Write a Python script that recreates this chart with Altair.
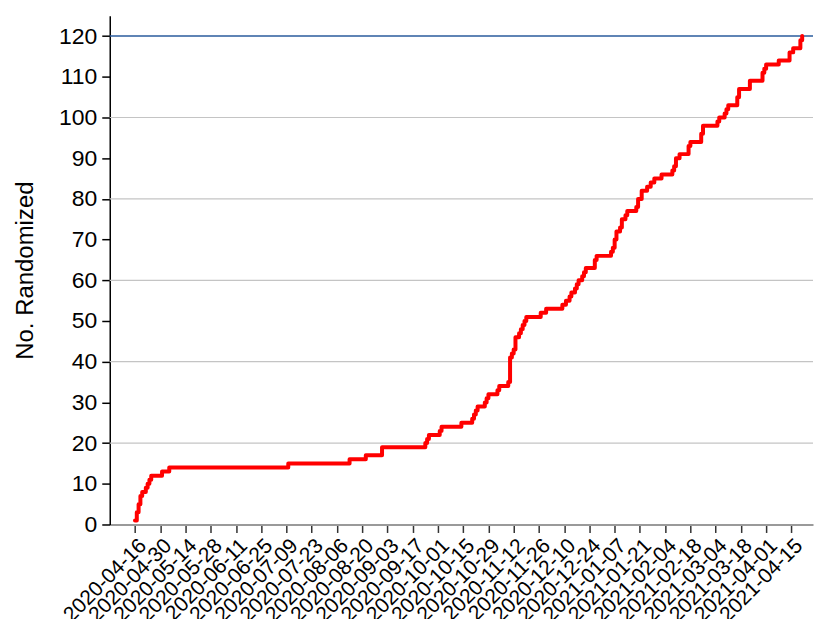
import altair as alt
import pandas as pd

# Step data: date of change and cumulative number randomized
dates = [
    "2020-04-16", "2020-04-17", "2020-04-18", "2020-04-19", "2020-04-20",
    "2020-04-22", "2020-04-23", "2020-04-24", "2020-04-25", "2020-05-01",
    "2020-05-05", "2020-07-10", "2020-08-13", "2020-08-22", "2020-08-31",
    "2020-09-24", "2020-09-25", "2020-09-26", "2020-10-02", "2020-10-03",
    "2020-10-14", "2020-10-20", "2020-10-21", "2020-10-22", "2020-10-23",
    "2020-10-27", "2020-10-28", "2020-10-29", "2020-11-03", "2020-11-04",
    "2020-11-09", "2020-11-10", "2020-11-11", "2020-11-12", "2020-11-13",
    "2020-11-15", "2020-11-16", "2020-11-17", "2020-11-18", "2020-11-19",
    "2020-11-27", "2020-11-30", "2020-12-09", "2020-12-11", "2020-12-13",
    "2020-12-14", "2020-12-16", "2020-12-17", "2020-12-18", "2020-12-20",
    "2020-12-21", "2020-12-22", "2020-12-27", "2020-12-28", "2021-01-05",
    "2021-01-06", "2021-01-07", "2021-01-08", "2021-01-10", "2021-01-11",
    "2021-01-13", "2021-01-14", "2021-01-19", "2021-01-20", "2021-01-22",
    "2021-01-25", "2021-01-27", "2021-01-29", "2021-02-02", "2021-02-08",
    "2021-02-09", "2021-02-10", "2021-02-12", "2021-02-17", "2021-02-18",
    "2021-02-24", "2021-02-25", "2021-03-05", "2021-03-06", "2021-03-09",
    "2021-03-10", "2021-03-11", "2021-03-16", "2021-03-17", "2021-03-23",
    "2021-03-30", "2021-03-31", "2021-04-01", "2021-04-08", "2021-04-14",
    "2021-04-16", "2021-04-20", "2021-04-21",
]
randomized = [
    1, 3, 5, 7, 8,
    9, 10, 11, 12, 13,
    14, 15, 16, 17, 19,
    20, 21, 22, 23, 24,
    25, 26, 27, 28, 29,
    30, 31, 32, 33, 34,
    35, 41, 42, 43, 46,
    47, 48, 49, 50, 51,
    52, 53, 54, 55, 56,
    57, 58, 59, 60, 61,
    62, 63, 65, 66, 67,
    68, 70, 72, 73, 75,
    76, 77, 78, 80, 82,
    83, 84, 85, 86, 87,
    88, 90, 91, 93, 94,
    96, 98, 99, 100, 101,
    102, 103, 105, 107, 109,
    111, 112, 113, 114, 116,
    117, 119, 120,
]

tick_labels = [
    "2020-04-16", "2020-04-30", "2020-05-14", "2020-05-28", "2020-06-11",
    "2020-06-25", "2020-07-09", "2020-07-23", "2020-08-06", "2020-08-20",
    "2020-09-03", "2020-09-17", "2020-10-01", "2020-10-15", "2020-10-29",
    "2020-11-12", "2020-11-26", "2020-12-10", "2020-12-24", "2021-01-07",
    "2021-01-21", "2021-02-04", "2021-02-18", "2021-03-04", "2021-03-18",
    "2021-04-01", "2021-04-15",
]
y_ticks = [0, 10, 20, 30, 40, 50, 60, 70, 80, 90, 100, 110, 120]
grid_values = [20, 40, 60, 80, 100]
target = [120]
x_domain = ["2020-04-02", "2021-04-27"]


def dt(s):
    y, m, d = (int(p) for p in s.split("-"))
    return alt.DateTime(year=y, month=m, date=d, utc=True)


df = pd.DataFrame({"date": dates, "n": randomized})
grid_df = pd.DataFrame({"y": grid_values})
target_df = pd.DataFrame({"y": target})

xscale = alt.Scale(type="utc", domain=[dt(x_domain[0]), dt(x_domain[1])])
yscale = alt.Scale(domain=[0, 125])

grid = alt.Chart(grid_df).mark_rule(color="#c4c4c4", strokeWidth=1.2).encode(
    y=alt.Y("y:Q", scale=yscale)
)
target_rule = alt.Chart(target_df).mark_rule(color="#2a5b9c", strokeWidth=1.5).encode(
    y=alt.Y("y:Q", scale=yscale)
)

line = alt.Chart(df).mark_line(
    color="#ff0000", strokeWidth=4, interpolate="step-after",
    strokeCap="round", strokeJoin="round",
).encode(
    x=alt.X(
        "date:T",
        scale=xscale,
        axis=alt.Axis(
            title=None,
            values=[dt(t) for t in tick_labels],
            labelExpr="utcFormat(datum.value, '%Y-%m-%d')",
            labelAngle=-45,
            labelFontSize=21,
            labelColor="black",
            labelFont="Liberation Sans",
            domainColor="#9a9a9a",
            domainWidth=2,
            tickColor="#333333",
            tickWidth=1.5,
            tickSize=8,
            grid=False,
            labelOverlap=False,
            labelBound=False,
        ),
    ),
    y=alt.Y(
        "n:Q",
        scale=yscale,
        axis=alt.Axis(
            title="No. Randomized",
            values=y_ticks,
            labelFontSize=23,
            labelPadding=5,
            labelColor="black",
            labelFont="Liberation Sans",
            titleFont="Liberation Sans",
            titleFontSize=24,
            titleFontWeight="normal",
            titleColor="black",
            titlePadding=21,
            domainColor="black",
            domainWidth=1.5,
            tickColor="black",
            tickWidth=1.5,
            tickSize=8,
            grid=False,
        ),
    ),
)

chart = (
    alt.layer(grid, target_rule, line)
    .properties(
        width=705,
        height=510,
        padding={"left": 5, "top": 7, "right": 0, "bottom": 0},
    )
    .configure_view(stroke=None)
)

chart.save("out.html", embed_options={"renderer": "svg", "actions": False})
